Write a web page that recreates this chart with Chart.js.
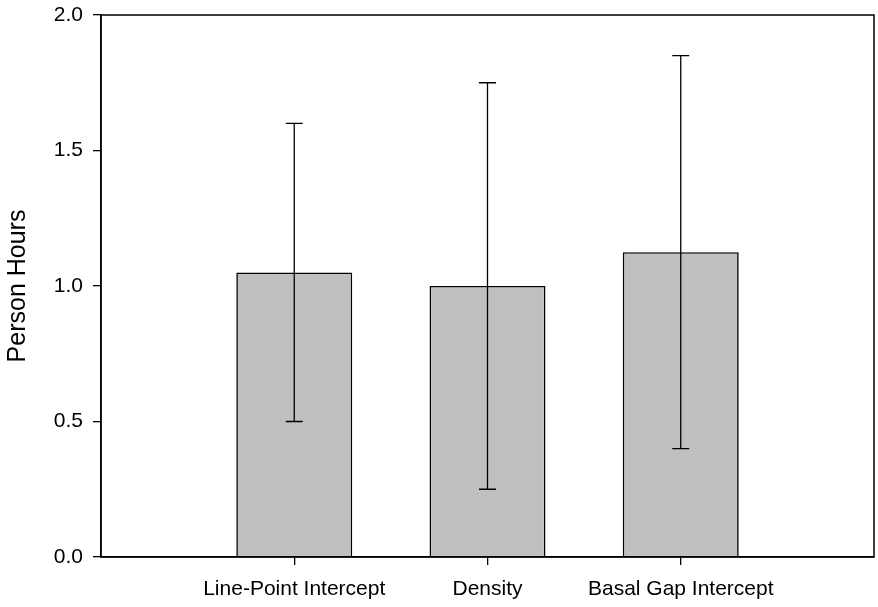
<!DOCTYPE html>
<html>
<head>
<meta charset="utf-8">
<script src="https://cdn.jsdelivr.net/npm/chart.js@4/dist/chart.umd.min.js"></script>
<style>
  html, body { margin: 0; padding: 0; background: #fff; }
  #wrap { width: 878px; height: 607px; }
</style>
</head>
<body>
<div id="wrap"><canvas id="chart"></canvas></div>
<script>
// Data
const categories = ['Line-Point Intercept', 'Density', 'Basal Gap Intercept'];
const positions = [1, 2, 3];
const means = [1.05, 1.0, 1.125];
const lower = [0.5, 0.25, 0.4];
const upper = [1.6, 1.75, 1.85];

const FONT = "'Liberation Sans', Arial, sans-serif";

// frame round the plot area (top and right lines)
const framePlugin = {
    id: 'frame',
    afterDraw(chart) {
        const a = chart.chartArea;
        const ctx = chart.ctx;
        ctx.save();
        ctx.strokeStyle = '#000';
        ctx.lineWidth = 1.5;
        ctx.strokeRect(a.left, a.top, a.right - a.left, a.bottom - a.top);
        ctx.restore();
    }
};

// error bars from lower/upper arrays
const errorBarPlugin = {
    id: 'errorBars',
    afterDatasetsDraw(chart) {
        const ctx = chart.ctx;
        const xs = chart.scales.x;
        const ys = chart.scales.y;
        const cap = 8.5;
        ctx.save();
        ctx.strokeStyle = '#000';
        ctx.lineWidth = 1.3;
        positions.forEach((p, i) => {
            const x = xs.getPixelForValue(p);
            const yLo = ys.getPixelForValue(lower[i]);
            const yHi = ys.getPixelForValue(upper[i]);
            ctx.beginPath();
            ctx.moveTo(x, yLo);
            ctx.lineTo(x, yHi);
            ctx.moveTo(x - cap, yHi);
            ctx.lineTo(x + cap, yHi);
            ctx.moveTo(x - cap, yLo);
            ctx.lineTo(x + cap, yLo);
            ctx.stroke();
        });
        ctx.restore();
    }
};

const ctx = document.getElementById('chart').getContext('2d');
new Chart(ctx, {
    type: 'bar',
    data: {
        datasets: [{
            data: positions.map((p, i) => ({ x: p, y: means[i] })),
            backgroundColor: '#c0c0c0',
            borderColor: '#000',
            borderWidth: 1.6,
            categoryPercentage: 1,
            barPercentage: 0.6
        }]
    },
    options: {
        responsive: true,
        maintainAspectRatio: false,
        animation: false,
        layout: { padding: { top: 15, right: 4, left: 0, bottom: 0 } },
        plugins: {
            legend: { display: false },
            tooltip: { enabled: false }
        },
        scales: {
            x: {
                type: 'linear',
                min: 0,
                max: 4,
                offset: false,
                afterBuildTicks: s => { s.ticks = positions.map(v => ({ value: v })); },
                afterFit: s => { s.height = 50; },
                ticks: {
                    autoSkip: false,
                    maxRotation: 0,
                    padding: 12,
                    color: '#000',
                    font: { family: FONT, size: 21 },
                    callback: v => categories[positions.indexOf(v)] || ''
                },
                grid: { offset: false, drawOnChartArea: false, drawTicks: true, tickLength: 8, color: '#000', lineWidth: 1.3 },
                border: { display: true, color: '#000', width: 1.5 }
            },
            y: {
                min: 0,
                max: 2,
                afterFit: s => { s.width = 101; s.paddingTop = 0; s.paddingBottom = 0; },
                ticks: {
                    stepSize: 0.5,
                    padding: 10,
                    color: '#000',
                    font: { family: FONT, size: 21 },
                    callback: v => v.toFixed(1)
                },
                grid: { drawOnChartArea: false, drawTicks: true, tickLength: 8, color: '#000', lineWidth: 1.3 },
                border: { display: true, color: '#000', width: 1.5 },
                title: {
                    display: true,
                    text: 'Person Hours',
                    color: '#000',
                    font: { family: FONT, size: 25 },
                    padding: { top: 3, bottom: 0 }
                }
            }
        }
    },
    plugins: [framePlugin, errorBarPlugin]
});
</script>
</body>
</html>
